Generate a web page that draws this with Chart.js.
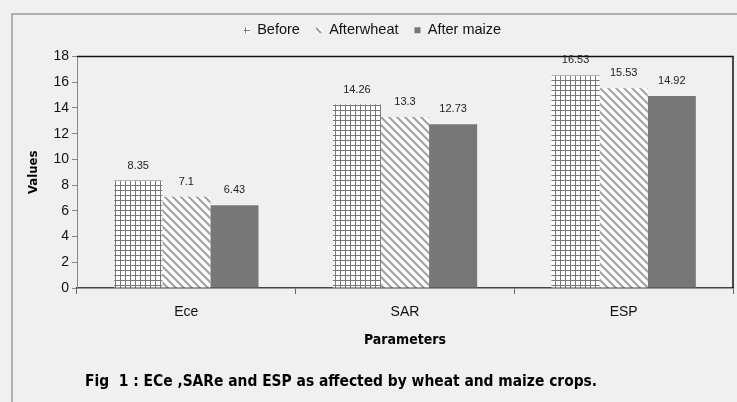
<!DOCTYPE html>
<html>
<head>
<meta charset="utf-8">
<script src="https://cdn.jsdelivr.net/npm/chart.js@4.4.1/dist/chart.umd.min.js"></script>
<style>
  html, body { margin: 0; padding: 0; background: #f0f0f0; }
  #wrap { position: relative; width: 737px; height: 402px; }
  #caption {
    position: absolute; left: 85px; top: 372px;
    font: bold 15.4px "DejaVu Sans Condensed", sans-serif;
    color: #000; white-space: pre;
  }
</style>
</head>
<body>
<div id="wrap">
  <canvas id="myChart" width="737" height="402"></canvas>
  <div id="caption">Fig  1 : ECe ,SARe and ESP as affected by wheat and maize crops.</div>
</div>
<script>
const categories = ['Ece', 'SAR', 'ESP'];
const seriesNames = ['Before', 'Afterwheat', 'After maize'];
const before = [8.35, 14.26, 16.53];
const afterWheat = [7.1, 13.3, 15.53];
const afterMaize = [6.43, 12.73, 14.92];
const yTicks = [0, 2, 4, 6, 8, 10, 12, 14, 16, 18];

const sans = '"Liberation Sans", Arial, sans-serif';
const boldCond = '"DejaVu Sans Condensed", sans-serif';

// fill patterns for the bars
function gridPattern() {
    const c = document.createElement('canvas');
    c.width = 5; c.height = 5;
    const g = c.getContext('2d');
    g.fillStyle = '#ffffff';
    g.fillRect(0, 0, 5, 5);
    g.fillStyle = '#777777';
    g.fillRect(0, 0, 5, 1);
    g.fillRect(0, 0, 1, 5);
    return g.createPattern(c, 'repeat');
}
function stripePattern() {
    const s = 8;
    const c = document.createElement('canvas');
    c.width = s; c.height = s;
    const g = c.getContext('2d');
    g.fillStyle = '#ffffff';
    g.fillRect(0, 0, s, s);
    g.strokeStyle = '#a0a0a0';
    g.lineWidth = 2;
    g.beginPath();
    g.moveTo(-1, -1); g.lineTo(s + 1, s + 1);
    g.moveTo(-1, s - 1); g.lineTo(1, s + 1);
    g.moveTo(s - 1, -1); g.lineTo(s + 1, 1);
    g.stroke();
    return g.createPattern(c, 'repeat');
}

// background, outer frame and the black top/right edge of the plot
const frame = {
    id: 'frame',
    beforeDraw(chart) {
        const c = chart.ctx;
        c.save();
        c.fillStyle = '#f0f0f0';
        c.fillRect(0, 0, chart.width, chart.height);
        c.strokeStyle = '#9a9a9a';
        c.lineWidth = 1.5;
        c.beginPath();
        c.moveTo(12, chart.height);
        c.lineTo(12, 14);
        c.lineTo(chart.width, 14);
        c.stroke();
        c.restore();
    },
    afterDraw(chart) {
        const a = chart.chartArea;
        const c = chart.ctx;
        c.save();
        c.strokeStyle = '#111';
        c.lineWidth = 1.5;
        c.beginPath();
        c.moveTo(a.left, a.top);
        c.lineTo(a.right, a.top);
        c.lineTo(a.right, a.bottom);
        c.stroke();
        c.restore();
    }
};

// extra room between legend and plot
const legendGap = {
    id: 'legendGap',
    beforeLayout(chart) {
        const lg = chart.legend;
        if (lg && !lg._gap) {
            const fit = lg.fit.bind(lg);
            lg.fit = function () { fit(); this.height += 9; };
            lg._gap = true;
        }
    }
};

const valueLabels = {
    id: 'valueLabels',
    afterDatasetsDraw(chart) {
        const c = chart.ctx;
        c.save();
        c.font = '11px ' + sans;
        c.fillStyle = '#222';
        c.textAlign = 'center';
        c.textBaseline = 'middle';
        chart.data.datasets.forEach((ds, i) => {
            chart.getDatasetMeta(i).data.forEach((bar, j) => {
                c.fillText(String(ds.data[j]), bar.x, bar.y - 15);
            });
        });
        c.restore();
    }
};

const ctx = document.getElementById('myChart').getContext('2d');
const myChart = new Chart(ctx, {
    type: 'bar',
    data: {
        labels: categories,
        datasets: [
            { label: seriesNames[0], data: before, backgroundColor: gridPattern() },
            { label: seriesNames[1], data: afterWheat, backgroundColor: stripePattern() },
            { label: seriesNames[2], data: afterMaize, backgroundColor: '#777777' }
        ]
    },
    options: {
        responsive: false,
        animation: false,
        layout: { padding: { left: 12, right: 4, top: 7, bottom: 49 } },
        datasets: {
            bar: { categoryPercentage: 0.66, barPercentage: 1, borderWidth: 0 }
        },
        plugins: {
            legend: {
                position: 'top',
                labels: {
                    boxWidth: 6,
                    boxHeight: 6,
                    padding: 16,
                    color: '#111',
                    font: { size: 14.5, family: sans }
                }
            },
            tooltip: { enabled: false }
        },
        scales: {
            x: {
                afterFit(s) { s.height = 65; },
                grid: { drawOnChartArea: false, offset: true, tickLength: 6, color: '#666' },
                border: { color: '#444', width: 1.5 },
                ticks: { color: '#111', padding: 10, font: { size: 14, family: sans } },
                title: {
                    display: true, text: 'Parameters', color: '#000',
                    padding: { top: 0, bottom: 4 },
                    font: { size: 14, weight: 'bold', family: boldCond }
                }
            },
            y: {
                min: 0,
                max: 18,
                afterFit(s) { s.width = 65; },
                afterBuildTicks(s) { s.ticks = yTicks.map(v => ({ value: v })); },
                grid: { drawOnChartArea: false, tickLength: 5, color: '#888' },
                border: { color: '#888', width: 1 },
                ticks: { color: '#111', padding: 3, font: { size: 14, family: sans } },
                title: {
                    display: true, text: 'Values', color: '#000',
                    padding: { top: 14, bottom: 0 },
                    font: { size: 13, weight: 'bold', family: boldCond }
                }
            }
        }
    },
    plugins: [frame, legendGap, valueLabels]
});
</script>
</body>
</html>
